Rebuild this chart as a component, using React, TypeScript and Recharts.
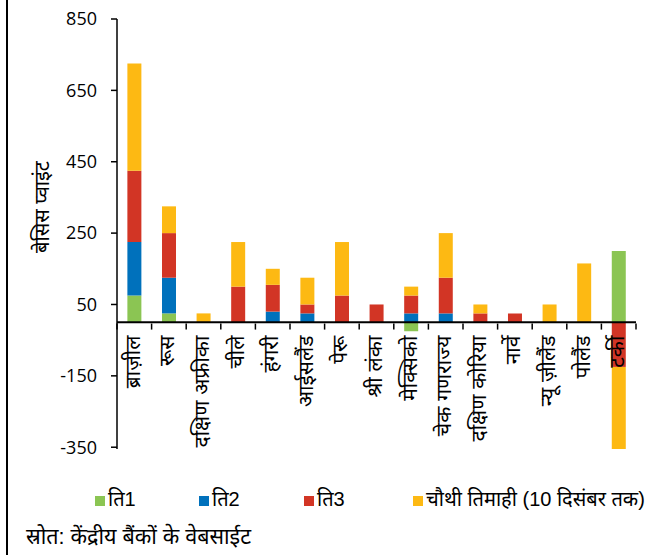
import { BarChart, Bar, XAxis, YAxis, ReferenceLine, Label } from "recharts";

// देश (x-अक्ष)
const countries = [
  "ब्राज़ील",
  "रूस",
  "दक्षिण अफ्रीका",
  "चीले",
  "हंगरी",
  "आईसलैंड",
  "पेरू",
  "श्री लंका",
  "मेक्सिको",
  "चेक गणराज्य",
  "दक्षिण कोरिया",
  "नार्वे",
  "न्यू ज़ीलैंड",
  "पोलैंड",
  "टर्की",
];

// नीतिगत दर में बदलाव, बेसिस प्वाइंट
const q1 = [75, 25, 0, 0, 0, 0, 0, 0, -25, 0, 0, 0, 0, 0, 200];
const q2 = [150, 100, 0, 0, 30, 25, 0, 0, 25, 25, 0, 0, 0, 0, 0];
const q3 = [200, 125, 0, 100, 75, 25, 75, 50, 50, 100, 25, 25, 0, 0, -125];
const q4 = [300, 75, 25, 125, 45, 75, 150, 0, 25, 125, 25, 0, 50, 165, -230];

const yTicks = [-350, -150, 50, 250, 450, 650, 850];

const seriesNames = ["ति1", "ति2", "ति3", "चौथी तिमाही (10 दिसंबर तक)"];
const seriesKeys = ["q1", "q2", "q3", "q4"];
const seriesColors = ["#8BC553", "#0071BC", "#D23525", "#FDB913"];

const data = countries.map((name, i) => ({
  name,
  q1: q1[i],
  q2: q2[i],
  q3: q3[i],
  q4: q4[i],
}));

const W = 654;
const H = 555;
const PLOT_LEFT = 117;
const PLOT_RIGHT = 636;
const PLOT_TOP = 19;
const PLOT_BOTTOM = 449;
const Y_MIN = -350;
const Y_MAX = 850;

const DEVA = "'Liberation Sans', 'Noto Sans Devanagari', 'Lohit Devanagari', sans-serif";

// x-अक्ष की रेखा शून्य पर है, नीचे नहीं
const zeroY = PLOT_TOP + ((Y_MAX - 0) / (Y_MAX - Y_MIN)) * (PLOT_BOTTOM - PLOT_TOP);
const band = (PLOT_RIGHT - PLOT_LEFT) / countries.length;

function CountryTick(props: any) {
  const { x, payload, index } = props;
  const last = index === countries.length - 1;
  const tx = x - 2;
  const ty = zeroY + 12;
  return (
    <g>
      <line x1={x - band / 2} y1={zeroY} x2={x - band / 2} y2={zeroY + 6} stroke="#000" strokeWidth={1.5} />
      {last && (
        <line x1={x + band / 2} y1={zeroY} x2={x + band / 2} y2={zeroY + 6} stroke="#000" strokeWidth={1.5} />
      )}
      <text
        x={tx}
        y={ty}
        transform={`rotate(-90, ${tx}, ${ty})`}
        textAnchor="end"
        dominantBaseline="central"
        fontFamily={DEVA}
        fontSize={21}
        fill="#000"
      >
        {payload.value}
      </text>
    </g>
  );
}

function YTitle() {
  const cy = 207;
  const cx = 42;
  return (
    <text
      x={cx}
      y={cy}
      transform={`rotate(-90, ${cx}, ${cy})`}
      textAnchor="middle"
      dominantBaseline="central"
      fontFamily={DEVA}
      fontSize={20}
      fill="#000"
    >
      बेसिस प्वाइंट
    </text>
  );
}

const legendLeft = [95, 199, 304, 413];

export default function App() {
  return (
    <div style={{ position: "absolute", left: 0, top: 0, width: W, height: H, background: "#fff" }}>
      <div style={{ position: "absolute", left: 6, top: 0, width: 1.5, height: H, background: "#000" }} />
      <BarChart
        width={W}
        height={H}
        data={data}
        stackOffset="sign"
        barCategoryGap="30%"
        margin={{ top: PLOT_TOP, right: W - PLOT_RIGHT, left: 0, bottom: H - PLOT_BOTTOM - 1 }}
      >
        <XAxis
          dataKey="name"
          height={1}
          axisLine={false}
          tickLine={false}
          interval={0}
          tick={(p: any) => <CountryTick {...p} />}
        />
        <YAxis
          width={PLOT_LEFT}
          domain={[Y_MIN, Y_MAX]}
          ticks={yTicks}
          interval={0}
          axisLine={{ stroke: "#000", strokeWidth: 1.5 }}
          tickLine={{ stroke: "#000", strokeWidth: 1.5 }}
          tickSize={6}
          tickMargin={14}
          tick={{ fill: "#000", fontSize: 18, fontFamily: "'Open Sans', sans-serif" }}
        >
          <Label content={<YTitle />} />
        </YAxis>
        {seriesKeys.map((k, i) => (
          <Bar key={k} dataKey={k} name={seriesNames[i]} stackId="a" fill={seriesColors[i]} isAnimationActive={false} />
        ))}
        <ReferenceLine y={0} stroke="#000" strokeWidth={2} />
      </BarChart>
      {seriesNames.map((n, i) => (
        <div
          key={n}
          style={{
            position: "absolute",
            left: legendLeft[i],
            top: 488,
            display: "flex",
            alignItems: "center",
            whiteSpace: "nowrap",
            fontFamily: DEVA,
            fontSize: 20,
            color: "#000",
          }}
        >
          <span style={{ display: "inline-block", width: 10, height: 10, background: seriesColors[i], marginRight: 3 }} />
          <span>{n}</span>
        </div>
      ))}
      <div style={{ position: "absolute", left: 26, top: 525, fontFamily: DEVA, fontSize: 21.5, color: "#000" }}>
        स्रोत: केंद्रीय बैंकों के वेबसाईट
      </div>
    </div>
  );
}
